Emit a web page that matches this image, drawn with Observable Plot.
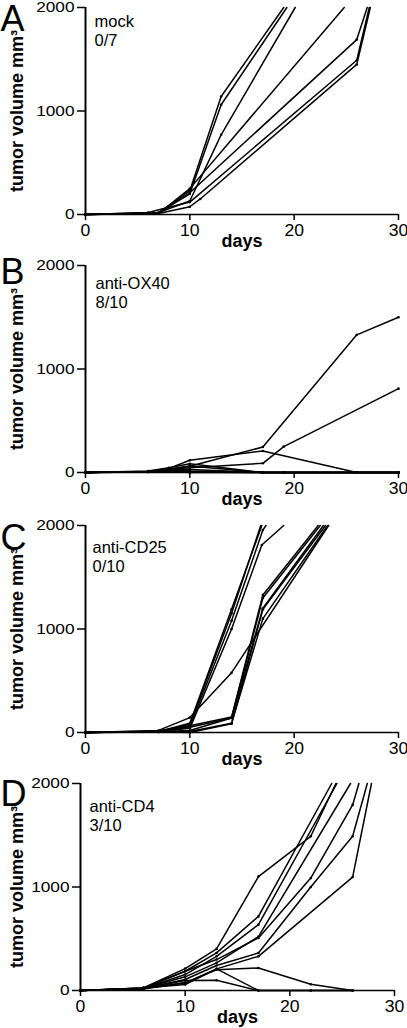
<!DOCTYPE html>
<html>
<head>
<meta charset="utf-8">
<script src="https://cdn.jsdelivr.net/npm/d3@7"></script>
<script src="https://cdn.jsdelivr.net/npm/@observablehq/plot@0.6"></script>
<style>
  html, body { margin: 0; padding: 0; background: #fff; overflow: hidden; }
  #fig { position: relative; width: 407px; height: 1028px; }
  #fig > div { position: absolute; left: 0; }
  svg { overflow: visible; }
  svg text { font-family: "Liberation Sans", Arial, sans-serif !important; }
</style>
</head>
<body>
<div id="fig"></div>
<script>
// ---------- data ----------
const xTicks = [0, 10, 20, 30];
const yTicks = [0, 1000, 2000];
const panelLetters = ["A", "B", "C", "D"];
const groupNames = ["mock", "anti-OX40", "anti-CD25", "anti-CD4"];
const tumorFree = ["0/7", "8/10", "0/10", "3/10"];
const yTitle = "tumor volume mm³";
const xTitle = "days";

// each mouse: [day, tumor volume mm3]
const mockMice = [
  [[0,0],[6,10],[7,15],[10,230],[13,1140],[19.0,2000]],
  [[0,0],[6,10],[7,15],[10,200],[13,1060],[19.3,2000]],
  [[0,0],[7,20],[10,130],[13,770],[20.1,2000]],
  [[0,0],[7,10],[10,250],[24.8,2000]],
  [[0,0],[7,15],[10,210],[26,1690],[27.0,2000]],
  [[0,0],[6,20],[10,120],[26,1490],[27.2,2000]],
  [[0,0],[7,10],[10,75],[11,150],[26,1450],[27.3,2000]]
];
const ox40Mice = [
  [[0,0],[6,10],[8,30],[10,60],[17,246],[26,1330],[30,1500]],
  [[0,0],[6,10],[8,40],[10,118],[17,208],[26,0],[30,0]],
  [[0,0],[6,10],[8,30],[10,46],[17,89],[19,250],[30,810]],
  [[0,0],[6,15],[8,45],[10,85],[17,0],[19,0],[26,0],[30,0]],
  [[0,0],[6,10],[8,35],[10,63],[17,0],[19,0],[26,0],[30,0]],
  [[0,0],[6,10],[8,30],[10,30],[17,0],[19,0],[26,0],[30,0]],
  [[0,0],[6,10],[8,25],[10,15],[17,0],[19,0],[26,0],[30,0]],
  [[0,0],[6,5],[8,20],[10,10],[17,0],[19,0],[26,0],[30,0]],
  [[0,0],[6,5],[8,15],[10,5],[17,0],[19,0],[26,0],[30,0]],
  [[0,0],[6,5],[8,10],[10,0],[17,0],[19,0],[26,0],[30,0]]
];
const cd25Mice = [
  [[0,0],[7,10],[10,80],[14,1150],[16.8,2000]],
  [[0,0],[7,10],[10,90],[14,1190],[16.9,2000]],
  [[0,0],[7,15],[10,60],[14,1080],[17,1956],[17.3,2000]],
  [[0,0],[7,10],[10,40],[14,1000],[16.9,1812],[19,2000]],
  [[0,0],[7,20],[10,144],[14,578],[23.3,2000]],
  [[0,0],[7,10],[10,65],[14,149],[17,1329],[22.3,2000]],
  [[0,0],[7,10],[10,50],[14,140],[17,1300],[22.5,2000]],
  [[0,0],[7,10],[10,19],[14,140],[17,1200],[22.8,2000]],
  [[0,0],[7,5],[10,0],[14,84],[17,1190],[23.0,2000]],
  [[0,0],[7,5],[10,10],[14,90],[17,1100],[23.2,2000]]
];
const cd4Mice = [
  [[0,0],[6,25],[10,212],[13,402],[17,1101],[22,1490],[24.4,2000]],
  [[0,0],[6,20],[10,186],[13,363],[17,716],[24.0,2000]],
  [[0,0],[6,20],[10,154],[13,330],[17,636],[24.5,2000]],
  [[0,0],[6,25],[10,186],[13,299],[17,508],[22,1086],[26,1793],[26.6,2000]],
  [[0,0],[6,20],[10,132],[13,267],[17,520],[25.8,2000]],
  [[0,0],[6,20],[10,106],[13,241],[17,363],[22,1000],[26,1490],[27.4,2000]],
  [[0,0],[6,15],[10,74],[13,209],[17,330],[26,1096],[27.8,2000]],
  [[0,0],[6,20],[10,96],[13,99],[17,0],[22,0],[26,0]],
  [[0,0],[6,25],[10,58],[13,209],[17,0],[22,0],[26,0]],
  [[0,0],[6,20],[10,74],[13,200],[17,218],[22,60],[26,0]]
];
const panelMice = [mockMice, ox40Mice, cd25Mice, cd4Mice];

// ---------- layout (positions / sizes only) ----------
const layout = [
  {top: 0,   h: 258, ml: 85, mr: 9,  letterDy: -2, noteDx: 9,  noteDy: 7,  noteLh: 1.1},
  {top: 258, h: 258, ml: 85, mr: 9,  letterDy: -7, noteDx: 10, noteDy: 10, noteLh: 1.15},
  {top: 518, h: 258, ml: 85, mr: 9,  letterDy: -1, noteDx: 7,  noteDy: 13, noteLh: 1.2},
  {top: 776, h: 252, ml: 80, mr: 13, letterDy: -3, noteDx: 9,  noteDy: 15, noteLh: 1.15}
];
const MT = 7, FRAME_H = 207;
const FONT = "'Liberation Sans', Arial, sans-serif";

function stretch(svg, label, sx, sy) {
  svg.querySelectorAll(`g[aria-label="${label}"] text`).forEach(t => {
    const tr = t.getAttribute("transform") || "";
    const x = t.getAttribute("x"), y = t.getAttribute("y");
    let tx = 0, ty = 0;
    if (x != null && !/em$/.test(x)) { tx = +x; t.removeAttribute("x"); }
    if (y != null && !/em$/.test(y)) { ty = +y; t.removeAttribute("y"); }
    t.setAttribute("transform", `${tr} translate(${tx},${ty}) scale(${sx},${sy})`);
  });
}

const fig = document.getElementById("fig");
panelMice.forEach((mice, p) => {
  const L = layout[p];
  const rows = mice.flatMap((m, i) => m.map(([day, vol]) => ({mouse: i, day, vol})));
  const svg = Plot.plot({
    width: 407,
    height: L.h,
    marginLeft: L.ml,
    marginRight: L.mr,
    marginTop: MT,
    marginBottom: L.h - MT - FRAME_H,
    style: {fontFamily: FONT, color: "#000", background: "transparent", overflow: "visible"},
    x: {domain: [0, 30], ticks: xTicks},
    y: {domain: [0, 2000], ticks: yTicks},
    marks: [
      Plot.axisX({ticks: xTicks, tickSize: 6, tickPadding: 4, fontSize: 16, strokeWidth: 1.5, label: null, tickFormat: "d"}),
      Plot.axisY({ticks: yTicks, tickSize: 8, tickPadding: 3, fontSize: 15, strokeWidth: 1.5, label: null, tickFormat: "d"}),
      Plot.ruleX([0], {stroke: "#000", strokeWidth: 2}),
      Plot.ruleY([0], {stroke: "#000", strokeWidth: 1.5}),
      Plot.line(rows, {x: "day", y: "vol", z: "mouse", stroke: "#000", strokeWidth: 1.5}),
      Plot.dot(rows.filter(d => d.vol < 2000), {x: "day", y: "vol", r: 1.3, fill: "#000", stroke: null}),
      Plot.text([panelLetters[p]], {text: d => d, frameAnchor: "top-left", textAnchor: "start", lineAnchor: "top",
        dx: -L.ml, dy: L.letterDy, fontSize: 36, fill: "#000"}),
      Plot.text([groupNames[p] + "\n" + tumorFree[p]], {text: d => d, frameAnchor: "top-left", textAnchor: "start", lineAnchor: "top",
        dx: L.noteDx, dy: L.noteDy, fontSize: 16.5, lineHeight: L.noteLh, fill: "#000"}),
      Plot.text([xTitle], {text: d => d, frameAnchor: "bottom", lineAnchor: "middle", dy: 27,
        fontSize: 18, fontWeight: "bold", fill: "#000"}),
      Plot.text([yTitle], {text: d => d, frameAnchor: "left", rotate: -90, textAnchor: "middle", lineAnchor: "middle",
        dx: -(L.ml - 17), fontSize: 18, fontWeight: "bold", fill: "#000", ariaLabel: "ytitle"})
    ]
  });
  stretch(svg, "x-axis tick label", 1.1, 1);
  stretch(svg, "y-axis tick label", 1.15, 1);
  stretch(svg, "ytitle", 1, 1.35);
  const wrap = document.createElement("div");
  wrap.style.top = L.top + "px";
  wrap.appendChild(svg);
  fig.appendChild(wrap);
});
</script>
</body>
</html>
